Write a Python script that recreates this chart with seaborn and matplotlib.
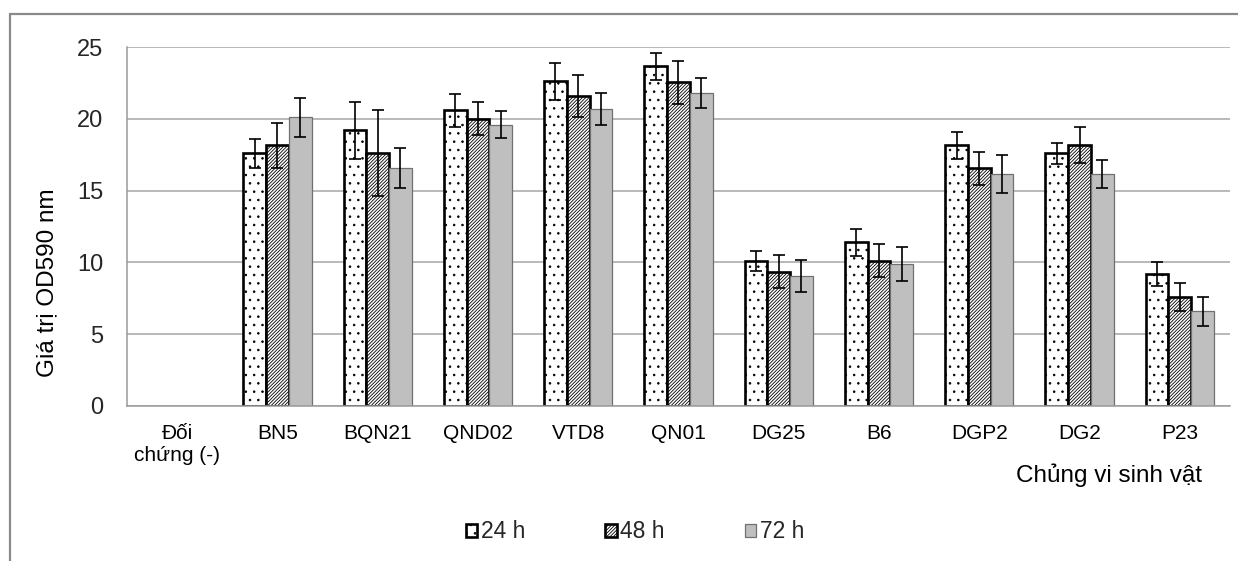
import numpy as np
import pandas as pd
import matplotlib.pyplot as plt
from matplotlib.patches import Rectangle
import seaborn as sns

# Giá trị OD590 theo chủng và thời gian
chung = ['Đối\nchứng (-)', 'BN5', 'BQN21', 'QND02', 'VTD8', 'QN01',
         'DG25', 'B6', 'DGP2', 'DG2', 'P23']
thoi_gian = ['24 h', '48 h', '72 h']
od_24h = [0, 17.6, 19.2, 20.6, 22.6, 23.65, 10.1, 11.4, 18.15, 17.6, 9.2]
od_48h = [0, 18.15, 17.6, 20.0, 21.6, 22.55, 9.35, 10.1, 16.55, 18.15, 7.6]
od_72h = [0, 20.1, 16.6, 19.6, 20.7, 21.8, 9.05, 9.9, 16.15, 16.15, 6.6]
sd_24h = [np.nan, 1.0, 2.0, 1.15, 1.3, 0.95, 0.7, 0.95, 0.95, 0.75, 0.85]
sd_48h = [np.nan, 1.55, 3.0, 1.15, 1.45, 1.5, 1.15, 1.15, 1.15, 1.25, 0.95]
sd_72h = [np.nan, 1.35, 1.4, 0.95, 1.1, 1.05, 1.1, 1.2, 1.3, 1.0, 1.0]

df = pd.DataFrame({
    'chung': chung * 3,
    'thoi_gian': np.repeat(thoi_gian, len(chung)),
    'od': od_24h + od_48h + od_72h,
})
sai_so = [sd_24h, sd_48h, sd_72h]

sns.set_theme(style='white')
plt.rcParams['font.family'] = ['Liberation Sans', 'DejaVu Sans']
plt.rcParams['hatch.linewidth'] = 0.6

fig = plt.figure(figsize=(12.38, 5.61), dpi=100)
ax = fig.add_axes([0.1026, 0.2763, 0.8909, 0.6399])

sns.barplot(data=df, x='chung', y='od', hue='thoi_gian', order=chung,
            hue_order=thoi_gian, palette=['white', 'white', '#bfbfbf'],
            width=0.68, errorbar=None, legend=False, ax=ax)

bar_conts = list(ax.containers)
kieu = [dict(hatch='..', edgecolor='black', linewidth=1.9),
        dict(hatch='//////////', edgecolor='black', linewidth=1.9),
        dict(hatch=None, edgecolor='#707070', linewidth=0.9)]
for cont, k, err in zip(bar_conts, kieu, sai_so):
    xs, hs = [], []
    for p in cont.patches:
        p.set(**k)
        if p.get_height() == 0:
            p.set_visible(False)
        xs.append(p.get_x() + p.get_width() / 2)
        hs.append(p.get_height())
    ax.errorbar(xs, hs, yerr=err, fmt='none', ecolor='black',
                elinewidth=1.2, capsize=4.5, capthick=1.2, zorder=5)

ax.set_ylim(0, 25)
ax.set_xlim(-0.5, len(chung) - 0.5)
ax.set_yticks(range(0, 26, 5))
ax.yaxis.grid(True, color='#a6a6a6', linewidth=1.1)
ax.set_axisbelow(True)
for s in ['top', 'right']:
    ax.spines[s].set_visible(False)
for s in ['left', 'bottom']:
    ax.spines[s].set_color('#9a9a9a')
    ax.spines[s].set_linewidth(1.1)

ax.set_xticks(np.arange(-0.5, len(chung)), minor=True)
ax.tick_params(axis='x', which='major', length=0, pad=13, labelsize=15,
               colors='black')
ax.tick_params(axis='x', which='minor', length=5, width=1, color='#9a9a9a')
ax.tick_params(axis='y', length=6, width=1, color='#9a9a9a', pad=11,
               labelsize=17)

ax.set_ylabel('Giá trị OD590 nm', fontsize=17.5, color='black')
ax.yaxis.set_label_coords(-0.062, 0.343)
ax.set_xlabel('Chủng vi sinh vật', fontsize=17.5, color='black')
ax.xaxis.label.set(ha='right', va='baseline')
ax.xaxis.set_label_coords(0.9746, -0.2117)

handles = [c.patches[1] for c in bar_conts]
fig.legend(handles, thoi_gian, loc='center', bbox_to_anchor=(0.513, 0.052),
           ncol=3, frameon=False, fontsize=16.5, handlelength=0.5,
           handleheight=0.5, handletextpad=0.15, columnspacing=3.5)

khung = Rectangle((10 / 1238, -0.1), 1.2, 1.075, transform=fig.transFigure,
                  fill=False, edgecolor='#8a8a8a', linewidth=1.6)
fig.add_artist(khung)

fig.savefig('out.png', dpi=100)
